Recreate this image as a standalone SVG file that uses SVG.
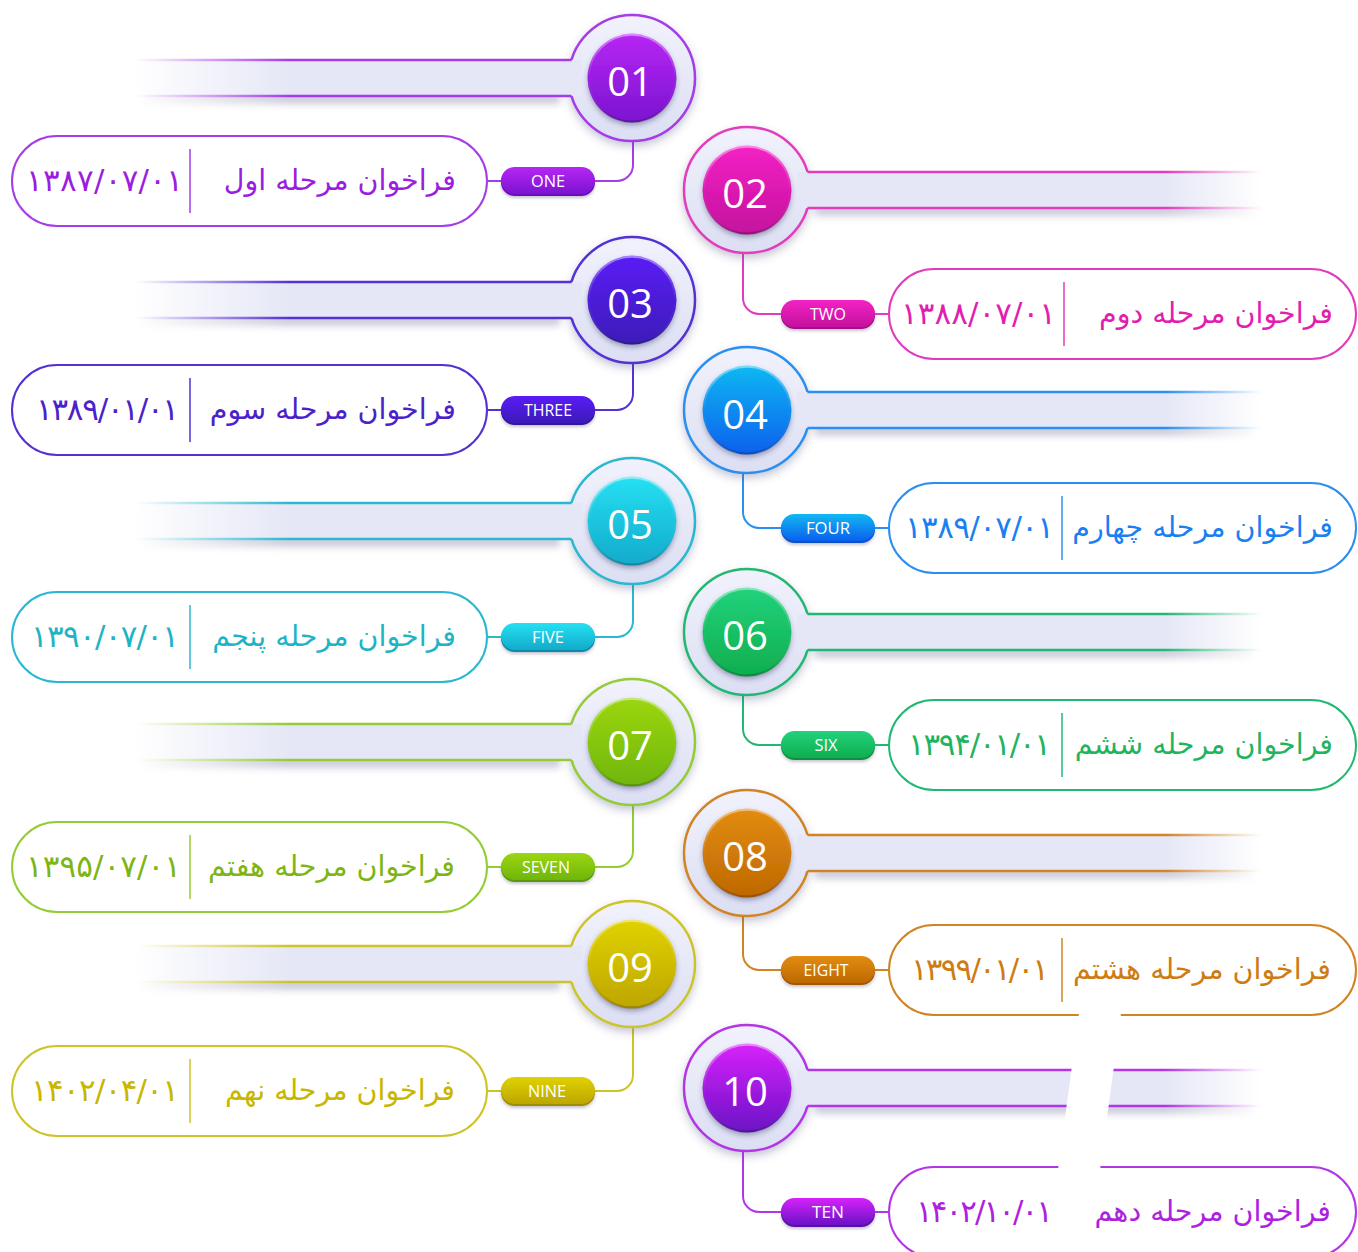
<svg xmlns="http://www.w3.org/2000/svg" width="1358" height="1252" viewBox="0 0 1358 1252">
<style>
.t{font-family:"DejaVu Sans",sans-serif;font-size:28.5px}
.d{font-family:"DejaVu Sans",sans-serif;font-size:31px}
.num{font-family:"Open Sans","Liberation Sans",sans-serif;font-size:40px;fill:#fff;text-anchor:middle}
.tag{font-family:"Open Sans","Liberation Sans",sans-serif;font-size:16px;fill:#fff;text-anchor:middle}
.ring{fill:url(#ring);stroke-width:2.5}
.bar{fill:#e5e7f6}
.shadow{fill:#6e6e9c;opacity:.35}
.rim{fill:none;stroke:url(#rim);stroke-width:2.5}
.card{fill:#fff;stroke-width:2}
.dv{stroke-width:1.5}
.conn{fill:none;stroke-width:2}
.s01 .st,.conn.s01{stroke:#a43ce8}.s01 .fl{fill:#a43ce8}.s01 .tx{fill:#9b1de0}.s01 .dk{fill:#6d10bd}
.s02 .st,.conn.s02{stroke:#e23cbc}.s02 .fl{fill:#e23cbc}.s02 .tx{fill:#e21db0}.s02 .dk{fill:#a80d88}
.s03 .st,.conn.s03{stroke:#5530d4}.s03 .fl{fill:#5530d4}.s03 .tx{fill:#4a22cc}.s03 .dk{fill:#30159e}
.s04 .st,.conn.s04{stroke:#2a8ff0}.s04 .fl{fill:#2a8ff0}.s04 .tx{fill:#1a7ff0}.s04 .dk{fill:#0a50c8}
.s05 .st,.conn.s05{stroke:#2ab8d0}.s05 .fl{fill:#2ab8d0}.s05 .tx{fill:#1fb3c6}.s05 .dk{fill:#0e8ba8}
.s06 .st,.conn.s06{stroke:#22b872}.s06 .fl{fill:#22b872}.s06 .tx{fill:#1fb45e}.s06 .dk{fill:#0b9040}
.s07 .st,.conn.s07{stroke:#94cc34}.s07 .fl{fill:#94cc34}.s07 .tx{fill:#7db514}.s07 .dk{fill:#5a9808}
.s08 .st,.conn.s08{stroke:#d08424}.s08 .fl{fill:#d08424}.s08 .tx{fill:#cf7b12}.s08 .dk{fill:#a05800}
.s09 .st,.conn.s09{stroke:#cdc428}.s09 .fl{fill:#cdc428}.s09 .tx{fill:#c8b600}.s09 .dk{fill:#a08c00}
.s10 .st,.conn.s10{stroke:#b236e6}.s10 .fl{fill:#b236e6}.s10 .tx{fill:#ae1fe0}.s10 .dk{fill:#5a10aa}
</style>
<defs>
<linearGradient id="ring" x1="0" y1="0" x2="0" y2="1"><stop offset="0" stop-color="#f1f2fc"/><stop offset="1" stop-color="#dcdff3"/></linearGradient>
<linearGradient id="rim" x1="0" y1="0" x2="0" y2="1"><stop offset="0" stop-color="#fff" stop-opacity=".45"/><stop offset=".5" stop-color="#fff" stop-opacity="0"/><stop offset="1" stop-color="#000" stop-opacity=".2"/></linearGradient>
<linearGradient id="g01" x1="0" y1="0" x2="0" y2="1"><stop offset="0" stop-color="#b726f4"/><stop offset="1" stop-color="#7a14d0"/></linearGradient>
<linearGradient id="g02" x1="0" y1="0" x2="0" y2="1"><stop offset="0" stop-color="#f422c4"/><stop offset="1" stop-color="#c3119e"/></linearGradient>
<linearGradient id="g03" x1="0" y1="0" x2="0" y2="1"><stop offset="0" stop-color="#5a1cf6"/><stop offset="1" stop-color="#3c1ab8"/></linearGradient>
<linearGradient id="g04" x1="0" y1="0" x2="0" y2="1"><stop offset="0" stop-color="#12b8f2"/><stop offset="1" stop-color="#0a60ee"/></linearGradient>
<linearGradient id="g05" x1="0" y1="0" x2="0" y2="1"><stop offset="0" stop-color="#26e0f2"/><stop offset="1" stop-color="#12aacb"/></linearGradient>
<linearGradient id="g06" x1="0" y1="0" x2="0" y2="1"><stop offset="0" stop-color="#22d27c"/><stop offset="1" stop-color="#0fae4e"/></linearGradient>
<linearGradient id="g07" x1="0" y1="0" x2="0" y2="1"><stop offset="0" stop-color="#9cd612"/><stop offset="1" stop-color="#6fb60a"/></linearGradient>
<linearGradient id="g08" x1="0" y1="0" x2="0" y2="1"><stop offset="0" stop-color="#e38c12"/><stop offset="1" stop-color="#bd6800"/></linearGradient>
<linearGradient id="g09" x1="0" y1="0" x2="0" y2="1"><stop offset="0" stop-color="#e0d200"/><stop offset="1" stop-color="#bda600"/></linearGradient>
<linearGradient id="g10" x1="0" y1="0" x2="0" y2="1"><stop offset="0" stop-color="#d722fa"/><stop offset="1" stop-color="#6a12c6"/></linearGradient>
<linearGradient id="mL" gradientUnits="userSpaceOnUse" x1="135" y1="0" x2="290" y2="0"><stop offset="0" stop-color="#000"/><stop offset="1" stop-color="#fff"/></linearGradient>
<linearGradient id="mR" gradientUnits="userSpaceOnUse" x1="1262" y1="0" x2="1165" y2="0"><stop offset="0" stop-color="#000"/><stop offset="1" stop-color="#fff"/></linearGradient>
<mask id="fadeL" maskUnits="userSpaceOnUse" x="0" y="0" width="1358" height="1252"><rect width="1358" height="1252" fill="url(#mL)"/></mask>
<mask id="fadeR" maskUnits="userSpaceOnUse" x="0" y="0" width="1358" height="1252"><rect width="1358" height="1252" fill="url(#mR)"/></mask>
<filter id="ds" x="-20%" y="-20%" width="140%" height="150%"><feDropShadow dx="0" dy="4" stdDeviation="4" flood-color="#5a5a8a" flood-opacity=".35"/></filter>
<filter id="ids" x="-20%" y="-20%" width="140%" height="150%"><feDropShadow dx="0" dy="3" stdDeviation="2.5" flood-color="#3a3a6a" flood-opacity=".4"/></filter>
<filter id="blur" x="-5%" y="-100%" width="110%" height="300%"><feGaussianBlur stdDeviation="3.5"/></filter>
<filter id="pds" x="-10%" y="-30%" width="120%" height="180%"><feDropShadow dx="0" dy="2" stdDeviation="1.5" flood-color="#404060" flood-opacity=".3"/></filter>
</defs>
<rect width="1358" height="1252" fill="#fff"/>

<g id="connectors">
<path class="conn s01" d="M633,141 V165 A16,16 0 0 1 617,181 H487"/>
<path class="conn s03" d="M633,363 V394 A16,16 0 0 1 617,410 H487"/>
<path class="conn s05" d="M633,584 V621 A16,16 0 0 1 617,637 H487"/>
<path class="conn s07" d="M633,805 V851 A16,16 0 0 1 617,867 H487"/>
<path class="conn s09" d="M633,1027 V1075 A16,16 0 0 1 617,1091 H487"/>
<path class="conn s02" d="M743,253 V298 A16,16 0 0 0 759,314 H889"/>
<path class="conn s04" d="M743,473 V512 A16,16 0 0 0 759,528 H889"/>
<path class="conn s06" d="M743,695 V729 A16,16 0 0 0 759,745 H889"/>
<path class="conn s08" d="M743,916 V954 A16,16 0 0 0 759,970 H889"/>
<path class="conn s10" d="M743,1151 V1196 A16,16 0 0 0 759,1212 H889"/>
</g>

<!-- left nodes -->
<g id="node-01" class="s01">
<circle class="ring st" cx="632" cy="78" r="63" filter="url(#ds)"/>
<g mask="url(#fadeL)"><rect class="shadow" x="140" y="92" width="420" height="12" filter="url(#blur)"/><rect class="bar" x="130" y="60" width="452" height="36"/><rect class="fl" x="130" y="58.75" width="441.6" height="2.5"/><rect class="fl" x="130" y="94.75" width="441.6" height="2.5"/></g>
<circle cx="632" cy="78" r="44.5" fill="url(#g01)" filter="url(#ids)"/><circle class="rim" cx="632" cy="78" r="43.5"/>
<text class="num" x="630" y="96">01</text>
</g>
<g id="node-03" class="s03">
<circle class="ring st" cx="632" cy="300" r="63" filter="url(#ds)"/>
<g mask="url(#fadeL)"><rect class="shadow" x="140" y="314" width="420" height="12" filter="url(#blur)"/><rect class="bar" x="130" y="282" width="452" height="36"/><rect class="fl" x="130" y="280.75" width="441.6" height="2.5"/><rect class="fl" x="130" y="316.75" width="441.6" height="2.5"/></g>
<circle cx="632" cy="300" r="44.5" fill="url(#g03)" filter="url(#ids)"/><circle class="rim" cx="632" cy="300" r="43.5"/>
<text class="num" x="630" y="318">03</text>
</g>
<g id="node-05" class="s05">
<circle class="ring st" cx="632" cy="521" r="63" filter="url(#ds)"/>
<g mask="url(#fadeL)"><rect class="shadow" x="140" y="535" width="420" height="12" filter="url(#blur)"/><rect class="bar" x="130" y="503" width="452" height="36"/><rect class="fl" x="130" y="501.75" width="441.6" height="2.5"/><rect class="fl" x="130" y="537.75" width="441.6" height="2.5"/></g>
<circle cx="632" cy="521" r="44.5" fill="url(#g05)" filter="url(#ids)"/><circle class="rim" cx="632" cy="521" r="43.5"/>
<text class="num" x="630" y="539">05</text>
</g>
<g id="node-07" class="s07">
<circle class="ring st" cx="632" cy="742" r="63" filter="url(#ds)"/>
<g mask="url(#fadeL)"><rect class="shadow" x="140" y="756" width="420" height="12" filter="url(#blur)"/><rect class="bar" x="130" y="724" width="452" height="36"/><rect class="fl" x="130" y="722.75" width="441.6" height="2.5"/><rect class="fl" x="130" y="758.75" width="441.6" height="2.5"/></g>
<circle cx="632" cy="742" r="44.5" fill="url(#g07)" filter="url(#ids)"/><circle class="rim" cx="632" cy="742" r="43.5"/>
<text class="num" x="630" y="760">07</text>
</g>
<g id="node-09" class="s09">
<circle class="ring st" cx="632" cy="964" r="63" filter="url(#ds)"/>
<g mask="url(#fadeL)"><rect class="shadow" x="140" y="978" width="420" height="12" filter="url(#blur)"/><rect class="bar" x="130" y="946" width="452" height="36"/><rect class="fl" x="130" y="944.75" width="441.6" height="2.5"/><rect class="fl" x="130" y="980.75" width="441.6" height="2.5"/></g>
<circle cx="632" cy="964" r="44.5" fill="url(#g09)" filter="url(#ids)"/><circle class="rim" cx="632" cy="964" r="43.5"/>
<text class="num" x="630" y="982">09</text>
</g>

<!-- right nodes -->
<g id="node-02" class="s02">
<circle class="ring st" cx="747" cy="190" r="63" filter="url(#ds)"/>
<g mask="url(#fadeR)"><rect class="shadow" x="815" y="204" width="440" height="12" filter="url(#blur)"/><rect class="bar" x="797" y="172" width="473" height="36"/><rect class="fl" x="807.4" y="170.75" width="462.6" height="2.5"/><rect class="fl" x="807.4" y="206.75" width="462.6" height="2.5"/></g>
<circle cx="747" cy="190" r="44.5" fill="url(#g02)" filter="url(#ids)"/><circle class="rim" cx="747" cy="190" r="43.5"/>
<text class="num" x="745" y="208">02</text>
</g>
<g id="node-04" class="s04">
<circle class="ring st" cx="747" cy="410" r="63" filter="url(#ds)"/>
<g mask="url(#fadeR)"><rect class="shadow" x="815" y="424" width="440" height="12" filter="url(#blur)"/><rect class="bar" x="797" y="392" width="473" height="36"/><rect class="fl" x="807.4" y="390.75" width="462.6" height="2.5"/><rect class="fl" x="807.4" y="426.75" width="462.6" height="2.5"/></g>
<circle cx="747" cy="410" r="44.5" fill="url(#g04)" filter="url(#ids)"/><circle class="rim" cx="747" cy="410" r="43.5"/>
<text class="num" x="745" y="429">04</text>
</g>
<g id="node-06" class="s06">
<circle class="ring st" cx="747" cy="632" r="63" filter="url(#ds)"/>
<g mask="url(#fadeR)"><rect class="shadow" x="815" y="646" width="440" height="12" filter="url(#blur)"/><rect class="bar" x="797" y="614" width="473" height="36"/><rect class="fl" x="807.4" y="612.75" width="462.6" height="2.5"/><rect class="fl" x="807.4" y="648.75" width="462.6" height="2.5"/></g>
<circle cx="747" cy="632" r="44.5" fill="url(#g06)" filter="url(#ids)"/><circle class="rim" cx="747" cy="632" r="43.5"/>
<text class="num" x="745" y="650">06</text>
</g>
<g id="node-08" class="s08">
<circle class="ring st" cx="747" cy="853" r="63" filter="url(#ds)"/>
<g mask="url(#fadeR)"><rect class="shadow" x="815" y="867" width="440" height="12" filter="url(#blur)"/><rect class="bar" x="797" y="835" width="473" height="36"/><rect class="fl" x="807.4" y="833.75" width="462.6" height="2.5"/><rect class="fl" x="807.4" y="869.75" width="462.6" height="2.5"/></g>
<circle cx="747" cy="853" r="44.5" fill="url(#g08)" filter="url(#ids)"/><circle class="rim" cx="747" cy="853" r="43.5"/>
<text class="num" x="745" y="871">08</text>
</g>
<g id="node-10" class="s10">
<circle class="ring st" cx="747" cy="1088" r="63" filter="url(#ds)"/>
<g mask="url(#fadeR)"><rect class="shadow" x="815" y="1102" width="440" height="12" filter="url(#blur)"/><rect class="bar" x="797" y="1070" width="473" height="36"/><rect class="fl" x="807.4" y="1068.75" width="462.6" height="2.5"/><rect class="fl" x="807.4" y="1104.75" width="462.6" height="2.5"/></g>
<circle cx="747" cy="1088" r="44.5" fill="url(#g10)" filter="url(#ids)"/><circle class="rim" cx="747" cy="1088" r="43.5"/>
<text class="num" x="745" y="1106">10</text>
</g>

<!-- tags -->
<g id="tag-01" class="s01"><rect class="dk" x="501" y="169" width="94" height="27" rx="13.5" filter="url(#pds)"/><rect x="501" y="167" width="94" height="27" rx="13.5" fill="url(#g01)"/><text class="tag" x="548" y="187" textLength="34" lengthAdjust="spacingAndGlyphs">ONE</text></g>
<g id="tag-03" class="s03"><rect class="dk" x="501" y="398" width="94" height="27" rx="13.5" filter="url(#pds)"/><rect x="501" y="396" width="94" height="27" rx="13.5" fill="url(#g03)"/><text class="tag" x="548" y="416" textLength="48" lengthAdjust="spacingAndGlyphs">THREE</text></g>
<g id="tag-05" class="s05"><rect class="dk" x="501" y="625" width="94" height="27" rx="13.5" filter="url(#pds)"/><rect x="501" y="623" width="94" height="27" rx="13.5" fill="url(#g05)"/><text class="tag" x="548" y="643" textLength="32" lengthAdjust="spacingAndGlyphs">FIVE</text></g>
<g id="tag-07" class="s07"><rect class="dk" x="501" y="855" width="94" height="27" rx="13.5" filter="url(#pds)"/><rect x="501" y="853" width="94" height="27" rx="13.5" fill="url(#g07)"/><text class="tag" x="546" y="873" textLength="48" lengthAdjust="spacingAndGlyphs">SEVEN</text></g>
<g id="tag-09" class="s09"><rect class="dk" x="501" y="1079" width="94" height="27" rx="13.5" filter="url(#pds)"/><rect x="501" y="1077" width="94" height="27" rx="13.5" fill="url(#g09)"/><text class="tag" x="547" y="1097" textLength="38" lengthAdjust="spacingAndGlyphs">NINE</text></g>
<g id="tag-02" class="s02"><rect class="dk" x="781" y="302" width="94" height="27" rx="13.5" filter="url(#pds)"/><rect x="781" y="300" width="94" height="27" rx="13.5" fill="url(#g02)"/><text class="tag" x="828" y="320" textLength="36" lengthAdjust="spacingAndGlyphs">TWO</text></g>
<g id="tag-04" class="s04"><rect class="dk" x="781" y="516" width="94" height="27" rx="13.5" filter="url(#pds)"/><rect x="781" y="514" width="94" height="27" rx="13.5" fill="url(#g04)"/><text class="tag" x="828" y="534" textLength="44" lengthAdjust="spacingAndGlyphs">FOUR</text></g>
<g id="tag-06" class="s06"><rect class="dk" x="781" y="733" width="94" height="27" rx="13.5" filter="url(#pds)"/><rect x="781" y="731" width="94" height="27" rx="13.5" fill="url(#g06)"/><text class="tag" x="826" y="751" textLength="23" lengthAdjust="spacingAndGlyphs">SIX</text></g>
<g id="tag-08" class="s08"><rect class="dk" x="781" y="958" width="94" height="27" rx="13.5" filter="url(#pds)"/><rect x="781" y="956" width="94" height="27" rx="13.5" fill="url(#g08)"/><text class="tag" x="826" y="976" textLength="45" lengthAdjust="spacingAndGlyphs">EIGHT</text></g>
<g id="tag-10" class="s10"><rect class="dk" x="781" y="1200" width="94" height="27" rx="13.5" filter="url(#pds)"/><rect x="781" y="1198" width="94" height="27" rx="13.5" fill="url(#g10)"/><text class="tag" x="828" y="1218" textLength="32" lengthAdjust="spacingAndGlyphs">TEN</text></g>

<!-- cards -->
<g id="card-01" class="s01"><rect class="card st" x="12" y="136" width="475" height="90" rx="45"/><line class="st dv" x1="190" y1="149" x2="190" y2="213"/><text class="t tx" x="456" y="190" text-anchor="end">فراخوان مرحله اول</text><text class="d tx" x="183" y="191" text-anchor="end" textLength="157" lengthAdjust="spacing">۱۳۸۷/۰۷/۰۱</text></g>
<g id="card-03" class="s03"><rect class="card st" x="12" y="365" width="475" height="90" rx="45"/><line class="st dv" x1="190" y1="378" x2="190" y2="442"/><text class="t tx" x="456" y="419" text-anchor="end">فراخوان مرحله سوم</text><text class="d tx" x="179" y="420" text-anchor="end" textLength="143" lengthAdjust="spacing">۱۳۸۹/۰۱/۰۱</text></g>
<g id="card-05" class="s05"><rect class="card st" x="12" y="592" width="475" height="90" rx="45"/><line class="st dv" x1="190" y1="605" x2="190" y2="669"/><text class="t tx" x="456" y="646" text-anchor="end">فراخوان مرحله پنجم</text><text class="d tx" x="179" y="647" text-anchor="end" textLength="148" lengthAdjust="spacing">۱۳۹۰/۰۷/۰۱</text></g>
<g id="card-07" class="s07"><rect class="card st" x="12" y="822" width="475" height="90" rx="45"/><line class="st dv" x1="190" y1="835" x2="190" y2="899"/><text class="t tx" x="455" y="876" text-anchor="end">فراخوان مرحله هفتم</text><text class="d tx" x="181" y="877" text-anchor="end" textLength="155" lengthAdjust="spacing">۱۳۹۵/۰۷/۰۱</text></g>
<g id="card-09" class="s09"><rect class="card st" x="12" y="1046" width="475" height="90" rx="45"/><line class="st dv" x1="190" y1="1059" x2="190" y2="1123"/><text class="t tx" x="455" y="1100" text-anchor="end">فراخوان مرحله نهم</text><text class="d tx" x="179" y="1101" text-anchor="end" textLength="148" lengthAdjust="spacing">۱۴۰۲/۰۴/۰۱</text></g>
<g id="card-02" class="s02"><rect class="card st" x="889" y="269" width="467" height="90" rx="45"/><line class="st dv" x1="1064" y1="282" x2="1064" y2="346"/><text class="t tx" x="1333" y="323" text-anchor="end">فراخوان مرحله دوم</text><text class="d tx" x="1056" y="324" text-anchor="end" textLength="155" lengthAdjust="spacing">۱۳۸۸/۰۷/۰۱</text></g>
<g id="card-04" class="s04"><rect class="card st" x="889" y="483" width="467" height="90" rx="45"/><line class="st dv" x1="1062" y1="496" x2="1062" y2="560"/><text class="t tx" x="1333" y="537" text-anchor="end">فراخوان مرحله چهارم</text><text class="d tx" x="1054" y="538" text-anchor="end" textLength="149" lengthAdjust="spacing">۱۳۸۹/۰۷/۰۱</text></g>
<g id="card-06" class="s06"><rect class="card st" x="889" y="700" width="467" height="90" rx="45"/><line class="st dv" x1="1062" y1="713" x2="1062" y2="777"/><text class="t tx" x="1333" y="754" text-anchor="end">فراخوان مرحله ششم</text><text class="d tx" x="1051" y="755" text-anchor="end" textLength="143" lengthAdjust="spacing">۱۳۹۴/۰۱/۰۱</text></g>
<g id="card-08" class="s08"><rect class="card st" x="889" y="925" width="467" height="90" rx="45"/><line class="st dv" x1="1062" y1="938" x2="1062" y2="1002"/><text class="t tx" x="1331" y="979" text-anchor="end">فراخوان مرحله هشتم</text><text class="d tx" x="1049" y="980" text-anchor="end" textLength="138" lengthAdjust="spacing">۱۳۹۹/۰۱/۰۱</text></g>
<g id="card-10" class="s10"><rect class="card st" x="889" y="1167" width="467" height="90" rx="45"/><line class="st dv" x1="1062" y1="1180" x2="1062" y2="1244"/><text class="t tx" x="1331" y="1221" text-anchor="end">فراخوان مرحله دهم</text><text class="d tx" x="1053" y="1222" text-anchor="end" textLength="137" lengthAdjust="spacing">۱۴۰۲/۱۰/۰۱</text></g>

<polygon points="1080,1006 1122,1006 1089,1252 1047,1252" fill="#fff"/>
</svg>
